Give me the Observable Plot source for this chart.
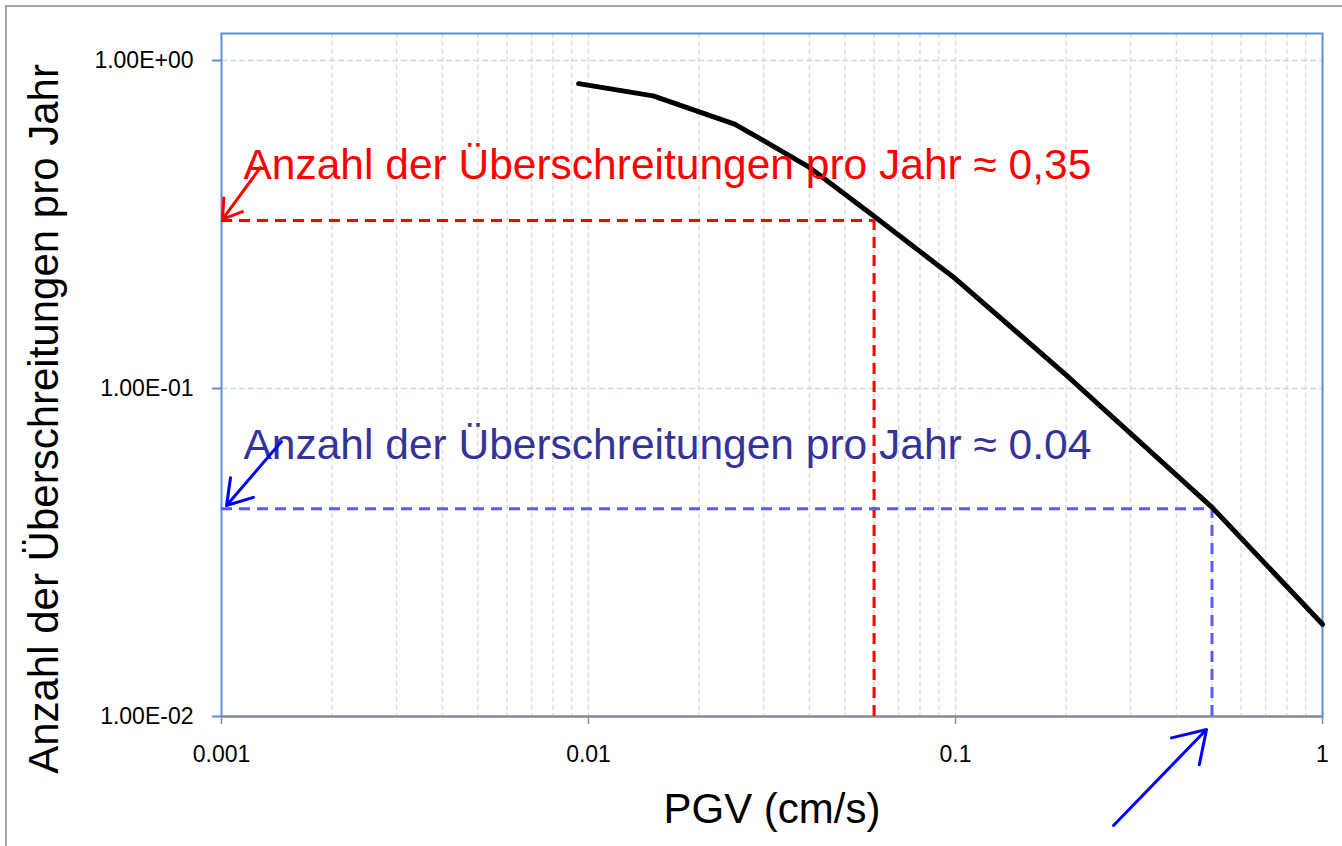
<!DOCTYPE html>
<html><head><meta charset="utf-8">
<script src="https://cdn.jsdelivr.net/npm/d3@7"></script>
<script src="https://cdn.jsdelivr.net/npm/@observablehq/plot@0.6"></script>
<style>
html,body{margin:0;padding:0;background:#fff;overflow:hidden;width:1342px;height:846px;}
#border{position:absolute;left:5px;top:5px;width:1400px;height:900px;border:2px solid #a6a6a6;box-sizing:border-box;}
#chart{position:absolute;left:0;top:0;}
</style></head><body>
<div id="border"></div><div id="chart"></div>
<script>
// Hazard curve: PGV (cm/s) vs. annual exceedance rate
const pgv    = [0.0094, 0.015, 0.025, 0.03, 0.04, 0.06, 0.1, 0.2, 0.5, 1];
const exceed = [0.85,   0.78,  0.64,  0.57, 0.472, 0.335, 0.216, 0.11, 0.0434, 0.0191];

// Reading lines
const redPGV = 0.06, redRate = 0.325;
const bluePGV = 0.5, blueRate = 0.043;

// Axis ticks
const xTicks = [0.001, 0.01, 0.1, 1];
const xTickLabels = ["0.001", "0.01", "0.1", "1"];
const yTicks = [0.01, 0.1, 1];
const yTickLabels = ["1.00E-02", "1.00E-01", "1.00E+00"];
const gridMultipliers = [2, 3, 4, 5, 6, 7, 8, 9];

// Texts
const xLabel = "PGV (cm/s)";
const yLabel = "Anzahl der Überschreitungen pro Jahr";
const redText = "Anzahl der Überschreitungen pro Jahr ≈ 0,35";
const blueText = "Anzahl der Überschreitungen pro Jahr ≈ 0.04";

// Annotation arrows (data coordinates)
const arrowX1 = [0.001277, 0.001457, 0.2695];
const arrowY1 = [0.4719, 0.0689, 0.004652];
const arrowX2 = [0.001006, 0.001032, 0.4830];
const arrowY2 = [0.3276, 0.04398, 0.009128];
const arrowColor = ["#ff0000", "#0000ff", "#0000ff"];

const curve = pgv.map((x, i) => ({x, y: exceed[i]}));
const arrows = arrowX1.map((x1, i) => ({x1, y1: arrowY1[i], x2: arrowX2[i], y2: arrowY2[i], c: arrowColor[i]}));
const xGrid = [];
for (const dec of [0.001, 0.01, 0.1]) {
  if (dec > 0.001) xGrid.push(dec);
  for (const m of gridMultipliers) xGrid.push(dec * m);
}
const xFmt = d => xTickLabels[xTicks.findIndex(t => Math.abs(t - d) < t * 1e-6)];
const yFmt = d => yTickLabels[yTicks.findIndex(t => Math.abs(t - d) < t * 1e-6)];

const axisBlue = "#5b8fd8";
const font = "'Liberation Sans', Arial, sans-serif";

const chart = Plot.plot({
  width: 1342,
  height: 846,
  marginLeft: 221,
  marginRight: 20,
  marginTop: 33,
  marginBottom: 130,
  style: {fontFamily: font, background: "transparent", overflow: "visible"},
  x: {type: "log", domain: [0.001, 1]},
  y: {type: "log", domain: [0.01, 1.2087]},
  marks: [
    Plot.ruleX(xGrid, {stroke: "#dddddd", strokeWidth: 1.5, strokeDasharray: "5,3"}),
    Plot.ruleY([1, 0.1], {stroke: "#c6d9f1", strokeWidth: 1.5, strokeDasharray: "6,3"}),
    Plot.frame({stroke: axisBlue, strokeWidth: 2}),
    Plot.ruleY([0.01], {stroke: "#8a8a8a", strokeWidth: 2}),
    Plot.axisX({ticks: xTicks, tickFormat: xFmt, tickSize: 8, tickPadding: 21,
      stroke: "#8a8a8a", strokeWidth: 1.5, fill: "#000", fontSize: 23, label: null}),
    Plot.axisY({ticks: yTicks, tickFormat: yFmt, tickSize: 9, tickPadding: 19,
      stroke: axisBlue, strokeWidth: 2, fill: "#000", fontSize: 23, label: null}),
    // reading lines
    Plot.ruleY([redRate], {x1: 0.001, x2: redPGV, stroke: "#ff0000", strokeWidth: 3, strokeDasharray: "11,7"}),
    Plot.ruleX([redPGV], {y1: 0.01, y2: redRate, stroke: "#ff0000", strokeWidth: 3, strokeDasharray: "11,7"}),
    Plot.ruleY([blueRate], {x1: 0.001, x2: bluePGV, stroke: "#5a5aff", strokeWidth: 3, strokeDasharray: "11,7"}),
    Plot.ruleX([bluePGV], {y1: 0.01, y2: blueRate, stroke: "#5a5aff", strokeWidth: 3, strokeDasharray: "11,7"}),
    // curve
    Plot.line(curve, {x: "x", y: "y", stroke: "#000", strokeWidth: 5}),
    // annotation texts
    Plot.text([redText], {x: 0.001, y: redRate, text: d => d, dx: 22, dy: -55, textAnchor: "start",
      lineAnchor: "middle", fontSize: 42.5, fill: "#ff0000"}),
    Plot.text([blueText], {x: 0.001, y: blueRate, text: d => d, dx: 22, dy: -63, textAnchor: "start",
      lineAnchor: "middle", fontSize: 42.5, fill: "#333399"}),
    Plot.arrow(arrows, {x1: "x1", y1: "y1", x2: "x2", y2: "y2", stroke: d => d.c, strokeWidth: 3,
      headLength: 18, headAngle: 65}),
    // axis labels
    Plot.text([xLabel], {frameAnchor: "bottom", text: d => d, dy: 93, lineAnchor: "middle", fontSize: 42, fill: "#000"}),
    Plot.text([yLabel], {frameAnchor: "left", text: d => d, rotate: -90, dx: -177, dy: 44, lineAnchor: "middle",
      textAnchor: "middle", fontSize: 42, fill: "#000"})
  ]
});
document.getElementById("chart").appendChild(chart);
</script>
</body></html>
